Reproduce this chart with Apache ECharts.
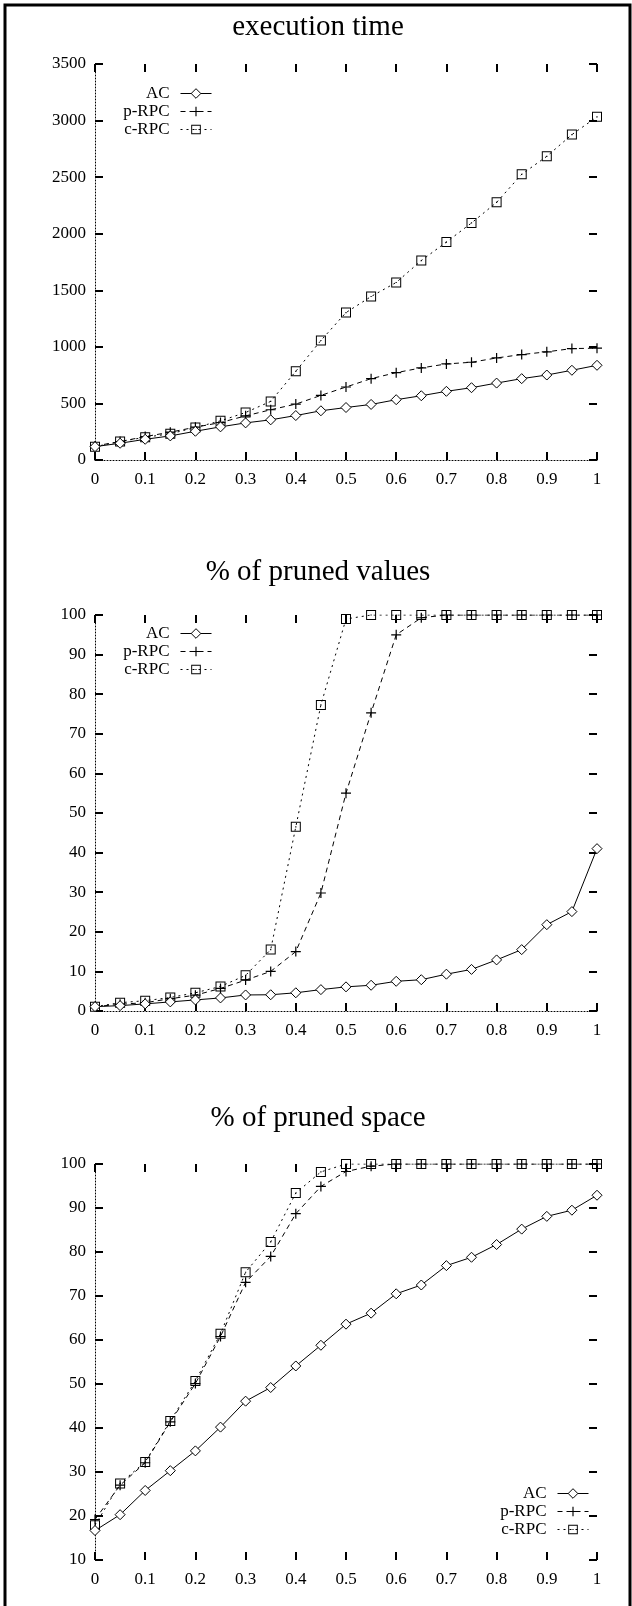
<!DOCTYPE html>
<html>
<head>
<meta charset="utf-8">
<title>execution time / pruned values / pruned space</title>
<script src="https://cdn.jsdelivr.net/npm/echarts@6/dist/echarts.min.js"></script>
<style>
  html, body { margin: 0; padding: 0; background: #fff; }
  #chart { width: 632px; height: 1606px; }
</style>
</head>
<body>
<div id="chart"></div>
<script>
// x values shared by the three plots
const xs = [0, 0.05, 0.1, 0.15, 0.2, 0.25, 0.3, 0.35, 0.4, 0.45, 0.5, 0.55, 0.6, 0.65, 0.7, 0.75, 0.8, 0.85, 0.9, 0.95, 1];
const seriesNames = ['AC', 'p-RPC', 'c-RPC'];
const titles = ['execution time', '% of pruned values', '% of pruned space'];

// execution time
const timeAC = [118, 148, 183, 213, 254, 293, 328, 355, 393, 435, 464, 491, 533, 568, 607, 639, 680, 719, 751, 793, 837];
const timeP = [124, 163, 207, 246, 290, 331, 390, 444, 494, 571, 645, 719, 772, 814, 849, 864, 902, 932, 956, 985, 988];
const timeC = [118, 163, 201, 232, 287, 346, 420, 518, 784, 1056, 1303, 1445, 1569, 1763, 1926, 2095, 2277, 2525, 2684, 2876, 3033];

// % of pruned values
const valAC = [1.1, 1.35, 1.8, 2.3, 2.8, 3.3, 4.05, 4.1, 4.6, 5.4, 6.1, 6.5, 7.5, 7.9, 9.3, 10.5, 12.9, 15.5, 21.8, 25.1, 41];
const valP = [1.1, 1.7, 2.1, 3.1, 4.0, 5.7, 7.8, 10, 15, 29.8, 55, 75.3, 95.0, 99.3, 100, 100, 100, 100, 100, 100, 100];
const valC = [1.1, 2.1, 2.6, 3.4, 4.6, 6.2, 9.0, 15.5, 46.5, 77.3, 99.0, 100, 100, 100, 100, 100, 100, 100, 100, 100, 100];

// % of pruned space
const spaceAC = [16.7, 20.3, 25.8, 30.3, 34.8, 40.2, 46.1, 49.2, 54.1, 58.8, 63.6, 66.1, 70.5, 72.5, 76.9, 78.8, 81.7, 85.2, 88.1, 89.5, 92.9];
const spaceP = [19.2, 27.0, 32.1, 41.4, 50.1, 60.8, 73.1, 79.0, 88.7, 94.9, 98.3, 99.5, 100, 100, 100, 100, 100, 100, 100, 100, 100];
const spaceC = [17.9, 27.4, 32.3, 41.6, 50.7, 61.4, 75.4, 82.3, 93.4, 98.2, 100, 100, 100, 100, 100, 100, 100, 100, 100, 100, 100];

// y axis [min, max, step] per plot
const yRanges = [[0, 3500, 500], [0, 100, 10], [10, 100, 10]];
const plotData = [[timeAC, timeP, timeC], [valAC, valP, valC], [spaceAC, spaceP, spaceC]];

const FONT = 'Liberation Serif';
const gridTops = [64, 615, 1164];
const titleTops = [13, 558, 1104];
// legend placement: [right, top]
const legendPos = [[420, 85], [420, 625], [43, 1485]];

const plusPath = 'path://M4.4,0h1.2v10h-1.2zM0,4.4h10v1.2h-10z';
const boxPath = 'path://M0,0H10V10H0ZM1,1V9H9V1ZM4.4,4.4h1.2v1.2h-1.2z';

const tick = () => ({ show: true, inside: true, length: 8, lineStyle: { color: '#000', width: 2 } });
const dotted = { color: '#000', width: 1, type: [1, 2] };
const labelStyle = { color: '#000', fontFamily: FONT, fontSize: 17 };

const styles = [
  {
    symbol: 'diamond', symbolSize: [10, 10],
    itemStyle: { color: '#fff', borderColor: '#000', borderWidth: 1 },
    lineStyle: { color: '#000', width: 1, type: 'solid' },
  },
  {
    symbol: plusPath, symbolSize: [10, 10],
    itemStyle: { color: '#000', borderWidth: 0 },
    lineStyle: { color: '#000', width: 1, type: [5, 4] },
  },
  {
    symbol: boxPath, symbolSize: [10, 10],
    itemStyle: { color: '#000', borderWidth: 0 },
    lineStyle: { color: '#000', width: 1, type: [2, 4] },
  },
];

const grid = [], xAxis = [], yAxis = [], title = [], legend = [], series = [];

gridTops.forEach((top, i) => {
  grid.push({ left: 95, top: top, width: 502, height: 396 });

  title.push({
    text: titles[i], left: 318, top: titleTops[i], textAlign: 'center', padding: 0,
    textStyle: { fontFamily: FONT, fontSize: 29, fontWeight: 'normal', color: '#000' },
  });

  legend.push({
    data: seriesNames, orient: 'vertical', align: 'right',
    right: legendPos[i][0], top: legendPos[i][1], padding: 0,
    itemWidth: 31, itemHeight: 12, itemGap: 1, selectedMode: false,
    lineStyle: { width: 1 },
    itemStyle: { borderWidth: 1 },
    textStyle: { ...labelStyle, lineHeight: 17, padding: [0, 6, 0, 0] },
  });

  // bottom + top x axes (labels only at the bottom)
  xAxis.push({
    gridIndex: i, type: 'value', min: 0, max: 1, interval: 0.1, position: 'bottom',
    axisLine: { show: i < 2, onZero: false, lineStyle: dotted },
    axisTick: tick(),
    axisLabel: { ...labelStyle, margin: 11, formatter: (v) => String(+v.toFixed(2)) },
    splitLine: { show: false },
  });
  xAxis.push({
    gridIndex: i, type: 'value', min: 0, max: 1, interval: 0.1, position: 'top',
    axisLine: { show: false, onZero: false }, axisTick: tick(), axisLabel: { show: false }, splitLine: { show: false },
  });

  const [ymin, ymax, ystep] = yRanges[i];
  yAxis.push({
    gridIndex: i, type: 'value', min: ymin, max: ymax, interval: ystep, position: 'left',
    axisLine: { show: true, onZero: false, lineStyle: dotted },
    axisTick: tick(),
    axisLabel: { ...labelStyle, margin: 9, formatter: (v) => String(v) },
    splitLine: { show: false },
  });
  yAxis.push({
    gridIndex: i, type: 'value', min: ymin, max: ymax, interval: ystep, position: 'right',
    axisLine: { show: false, onZero: false }, axisTick: tick(), axisLabel: { show: false }, splitLine: { show: false },
  });

  plotData[i].forEach((vals, k) => {
    series.push({
      name: seriesNames[k], type: 'line',
      xAxisIndex: i * 2, yAxisIndex: i * 2,
      data: xs.map((x, j) => [x, vals[j]]),
      showSymbol: true, showAllSymbol: true,
      z: 3 - k,
      ...styles[k],
    });
  });
});

const chart = echarts.init(document.getElementById('chart'));
chart.setOption({
  animation: false,
  backgroundColor: '#fff',
  title, legend, grid, xAxis, yAxis, series,
  graphic: [{
    type: 'rect', silent: true,
    shape: { x: 5, y: 5, width: 625, height: 1700 },
    style: { fill: 'none', stroke: '#000', lineWidth: 3 },
  }],
});
</script>
</body>
</html>
